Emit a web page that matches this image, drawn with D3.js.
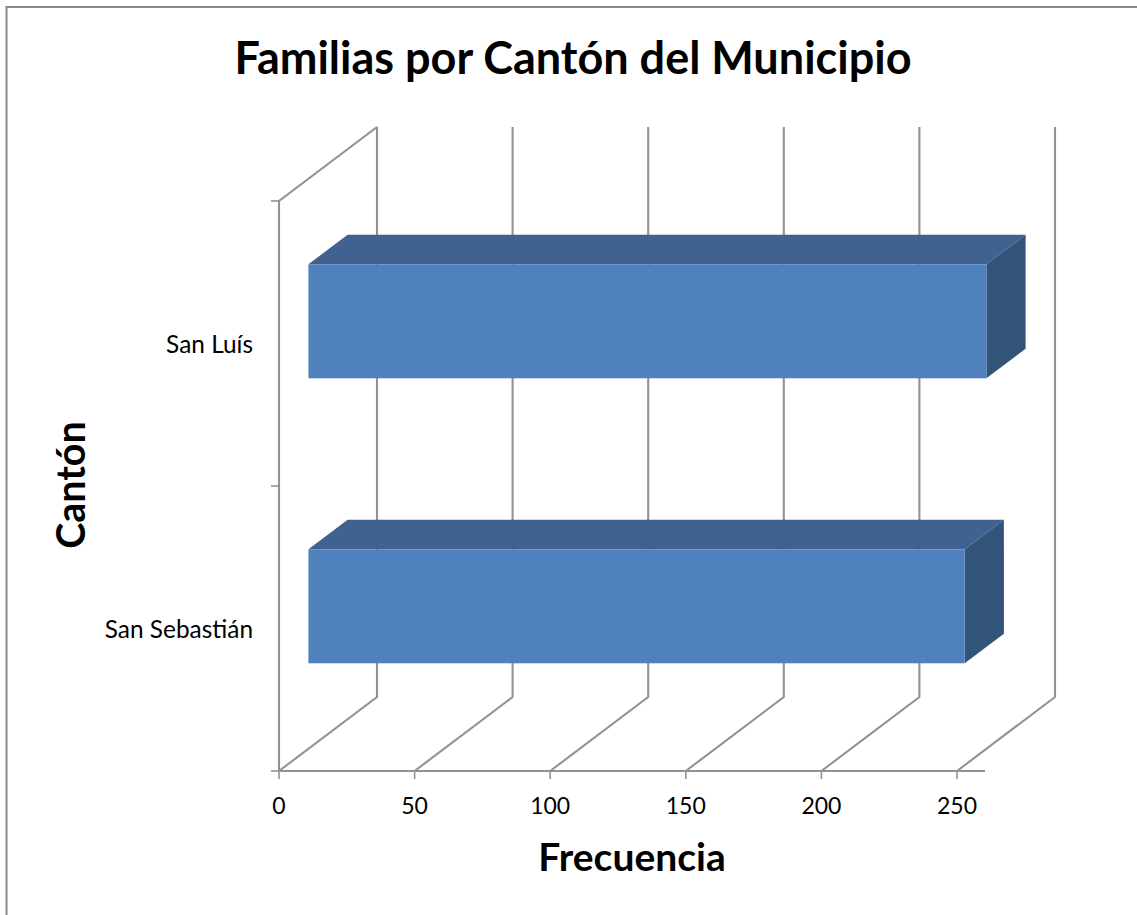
<!DOCTYPE html>
<html><head><meta charset="utf-8">
<script src="https://cdnjs.cloudflare.com/ajax/libs/d3/7.8.5/d3.min.js"></script>
<style>html,body{margin:0;padding:0;background:#fff;overflow:hidden}text{font-family:Lato,"Open Sans",sans-serif;fill:#000}</style>
</head><body><svg id="c" width="1137" height="915"></svg>
<script>
const categories = ["San Luís", "San Sebastián"];
const frecuencia = [250, 242];
const xTicks = [0, 50, 100, 150, 200, 250];
const chartTitle = "Familias por Cantón del Municipio";
const xTitle = "Frecuencia";
const yTitle = "Cantón";

const svg = d3.select("#c");
const x0 = 279, yFloor = 771, yTop = 201, dx = 98, dy = -74;
const x = d3.scaleLinear().domain([0, 250]).range([x0, 957]);
const y = d3.scaleBand().domain(categories).range([yTop, yFloor]).paddingInner(0).paddingOuter(0);
const grid = "#929292";

svg.append("path").attr("d", "M6.5,915V7H1137").attr("fill", "none").attr("stroke", "#8a8a8a").attr("stroke-width", 2);

// back wall + floor gridlines
svg.append("g").selectAll("path").data(xTicks).join("path")
  .attr("d", d => `M${x(d)},${yFloor}L${x(d)+dx},${yFloor+dy}V${yTop+dy}`)
  .attr("fill", "none").attr("stroke", grid).attr("stroke-width", 2.1);
// side wall
svg.append("path").attr("d", `M${x0},${yFloor}V${yTop}L${x0+dx},${yTop+dy}`).attr("fill", "none").attr("stroke", grid).attr("stroke-width", 2.1);
// floor front edge
svg.append("path").attr("d", `M${x0},${yFloor}H985`).attr("fill", "none").attr("stroke", grid).attr("stroke-width", 2.1);
// ticks
svg.append("g").selectAll("line").data(xTicks).join("line")
  .attr("x1", d => x(d)).attr("x2", d => x(d)).attr("y1", yFloor).attr("y2", yFloor + 8)
  .attr("stroke", grid).attr("stroke-width", 1.6);
svg.append("g").selectAll("line").data([yTop, yTop + y.bandwidth(), yFloor]).join("line")
  .attr("x1", x0 - 8).attr("x2", x0).attr("y1", d => d).attr("y2", d => d)
  .attr("stroke", grid).attr("stroke-width", 1.6);

// bars
const fx = 0.3 * dx, fy = 0.3 * dy, bx = 0.4 * dx, by = 0.4 * dy;
const barH = 0.4 * y.bandwidth();
const bars = svg.append("g").selectAll("g").data(categories).join("g");
const geom = (c, i) => ({
  l: x(0) + fx,
  r: x(frecuencia[i]) + fx,
  t: y(c) + (y.bandwidth() - barH) / 2 + fy,
  b: y(c) + (y.bandwidth() + barH) / 2 + fy
});
bars.append("path").attr("fill", "#3f6290").attr("d", (c, i) => { const g = geom(c, i);
  return `M${g.l},${g.t}L${g.l+bx},${g.t+by}H${g.r+bx}L${g.r},${g.t}Z`; });
bars.append("path").attr("fill", "#325479").attr("d", (c, i) => { const g = geom(c, i);
  return `M${g.r},${g.t}L${g.r+bx},${g.t+by}V${g.b+by}L${g.r},${g.b}Z`; });
bars.append("rect").attr("fill", "#4f81bd")
  .attr("x", (c, i) => geom(c, i).l).attr("y", (c, i) => geom(c, i).t)
  .attr("width", (c, i) => geom(c, i).r - geom(c, i).l).attr("height", barH);

// labels
svg.append("g").selectAll("text").data(xTicks).join("text")
  .attr("x", d => x(d)).attr("y", 814).attr("text-anchor", "middle").attr("font-size", 23).text(d => d);
svg.append("g").selectAll("text").data(categories).join("text")
  .attr("x", 253).attr("y", c => y(c) + y.bandwidth() / 2 + 9.5).attr("text-anchor", "end").attr("font-size", 24.4).text(c => c);
svg.append("text").attr("x", 573).attr("y", 74).attr("text-anchor", "middle").attr("font-size", 45).attr("font-weight", 700).text(chartTitle);
svg.append("text").attr("x", 632).attr("y", 871).attr("text-anchor", "middle").attr("font-size", 39).attr("font-weight", 700).text(xTitle);
svg.append("text").attr("transform", "translate(85,485) rotate(-90)").attr("text-anchor", "middle").attr("font-size", 39.5).attr("font-weight", 700).text(yTitle);
</script></body></html>
